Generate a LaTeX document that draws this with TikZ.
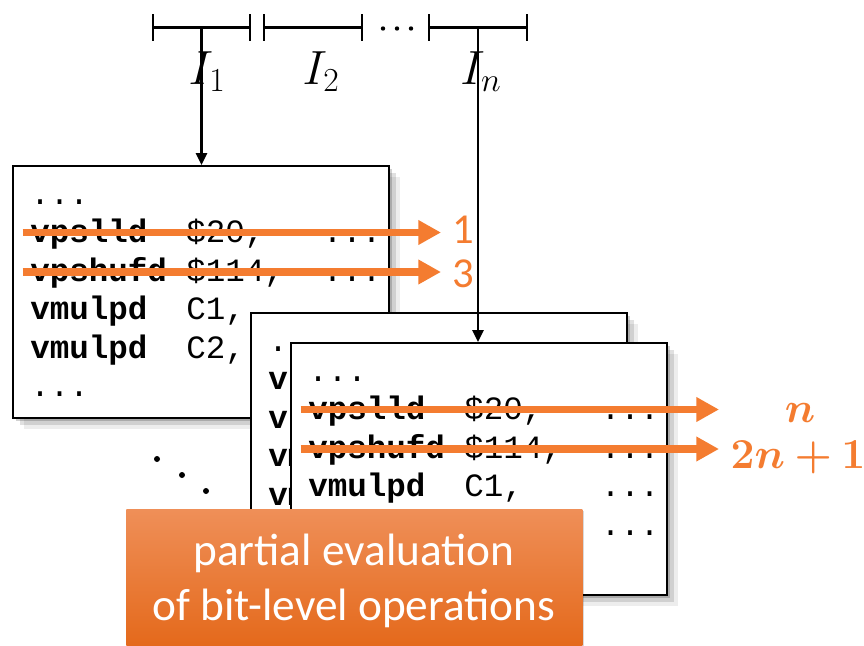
\RequirePackage{fix-cm}
\documentclass[tikz,border=0pt]{standalone}
\usepackage{bm}
\usepackage{fontspec}
\newfontfamily\codefont{Liberation Mono}
\newfontfamily\calfont{Carlito}
\usetikzlibrary{arrows.meta,shadows}
\definecolor{hot}{HTML}{F47C30}
\definecolor{otop}{HTML}{EF8F58}
\definecolor{omid}{HTML}{F27C2C}
\definecolor{obot}{HTML}{E4691B}
\tikzset{
  codepanel/.style={draw=black, line width=1.4pt, fill=white, inner sep=0pt,
    minimum width=282pt, minimum height=189pt, anchor=north west,
    drop shadow={shadow xshift=2.5pt, shadow yshift=-2.5pt, opacity=.18, fill=black},
    drop shadow={shadow xshift=5.5pt, shadow yshift=-5.5pt, opacity=.12, fill=black},
    drop shadow={shadow xshift=8.5pt, shadow yshift=-8.5pt, opacity=.07, fill=black}},
  mnem/.style={font=\codefont\bfseries\fontsize{24.4}{28}\selectfont, anchor=base west, inner sep=0pt},
  oper/.style={font=\codefont\fontsize{24.4}{28}\selectfont, anchor=base west, inner sep=0pt},
  hotarrow/.style={draw=hot, line width=5.4pt, -{Triangle[length=17pt,width=17.5pt]}},
  blkarrow/.style={draw=black, line width=1.6pt, -{Triangle[length=9pt,width=8.5pt]}},
  interval/.style={draw=black, line width=1.8pt},
  ilabel/.style={font=\fontsize{36}{40}\selectfont, anchor=base, inner sep=0pt},
  numlabel/.style={font=\calfont\fontsize{32}{36}\selectfont, text=hot, anchor=base west, inner sep=0pt},
  mathlabel/.style={font=\fontsize{32}{36}\selectfont, text=hot, anchor=base, inner sep=0pt},
  orangebox/.style={top color=otop, middle color=omid, bottom color=obot, inner sep=0pt,
    minimum width=342pt, minimum height=103pt, anchor=north west,
    drop shadow={shadow xshift=1.5pt, shadow yshift=-1.5pt, opacity=.15, fill=black}},
  boxtext/.style={font=\calfont\fontsize{34}{40}\selectfont, text=white, anchor=base, inner sep=0pt},
  dotmark/.style={fill=black, draw=none}
}
\newcommand{\codebox}[3]{%
  \node[codepanel] (#1) at (#2,#3) {};
  \begin{scope}[shift={(#2,#3)}]
    \node[oper] (#1-d1) at (18,39) {...};
    \node[mnem] (#1-m2) at (18,77.5) {vpslld};
    \node[oper] (#1-o2) at (174,77.5) {\$20,};
    \node[oper] (#1-e2) at (310.5,77.5) {...};
    \node[mnem] (#1-m3) at (18,116) {vpshufd};
    \node[oper] (#1-o3) at (174,116) {\$114,};
    \node[oper] (#1-e3) at (310.5,116) {...};
    \node[mnem] (#1-m4) at (18,154.5) {vmulpd};
    \node[oper] (#1-o4) at (174,154.5) {C1,};
    \node[oper] (#1-e4) at (310.5,154.5) {...};
    \node[mnem] (#1-m5) at (18,193) {vmulpd};
    \node[oper] (#1-o5) at (174,193) {C2,};
    \node[oper] (#1-e5) at (310.5,193) {...};
    \node[oper] (#1-d6) at (18,231.5) {...};
    \coordinate (#1-s1) at (10.5,67.5);
    \coordinate (#1-t1) at (429,67.5);
    \coordinate (#1-s2) at (10.5,107);
    \coordinate (#1-t2) at (429,107);
  \end{scope}}
\begin{document}
\begin{tikzpicture}[x=0.75pt,y=-0.75pt]
\useasboundingbox (0,0) rectangle (864,646);
\fill[white] (0,0) rectangle (864,646);

% intervals
\coordinate (i1a) at (153,27.5); \coordinate (i1b) at (250,27.5);
\coordinate (i2a) at (264,27.5); \coordinate (i2b) at (362,27.5);
\coordinate (ina) at (429,27.5); \coordinate (inb) at (527,27.5);
\coordinate (i1m) at (201.5,27.5);
\coordinate (inm) at (478,27.5);
\foreach \a/\b in {i1a/i1b, i2a/i2b, ina/inb}{
  \draw[interval] (\a) -- (\b);
  \draw[interval] ([yshift=10pt]\a) -- ([yshift=-10pt]\a);
  \draw[interval] ([yshift=10pt]\b) -- ([yshift=-10pt]\b);
}
\foreach \x in {383,397,411} \fill[dotmark] (\x,28.5) circle (2.2);

\node[ilabel] (l1) at (207,84) {$I_1$};
\node[ilabel] (l2) at (321,84) {$I_2$};
\node[ilabel] (ln) at (481,84) {$I_n$};

% box 1
\codebox{b1}{12}{165}
\draw[blkarrow] (i1m) -- (i1m |- b1.north);
\draw[hotarrow] (b1-s1) -- (b1-t1);
\draw[hotarrow] (b1-s2) -- (b1-t2);
\node[numlabel] (n1) at (452,243) {1};
\node[numlabel] (n3) at (452,287) {3};

% diagonal dots
\fill[dotmark] (157,459) circle (3);
\fill[dotmark] (182,475) circle (3);
\fill[dotmark] (206,491) circle (3);

% box 2 and box 3
\codebox{b2}{250}{312}
\codebox{b3}{290}{342}
\draw[blkarrow] (inm) -- (inm |- b3.north);
\draw[hotarrow] (b3-s1) -- (b3-t1);
\draw[hotarrow] (b3-s2) -- (b3-t2);
\node[mathlabel] (nn) at (800,422) {$\bm{n}$};
\node[mathlabel] (n2) at (798,468) {$\bm{2n+1}$};

% orange box
\node[orangebox] (ob) at (126,509) {};
\node[boxtext] (t1) at (354,565) {partial evaluation};
\node[boxtext] (t2) at (354,620) {of bit-level operations};
\end{tikzpicture}
\end{document}
